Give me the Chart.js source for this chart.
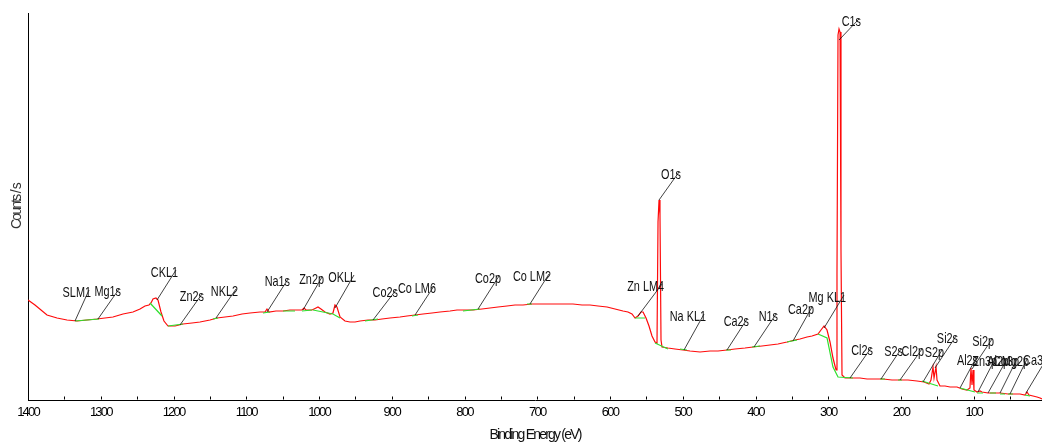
<!DOCTYPE html>
<html>
<head>
<meta charset="utf-8">
<title>XPS survey spectrum</title>
<script src="https://cdn.jsdelivr.net/npm/chart.js@4.4.0/dist/chart.umd.min.js"></script>
<style>
  html, body { margin: 0; padding: 0; background: #ffffff; }
  #wrap { width: 1042px; height: 444px; position: relative; }
</style>
</head>
<body>
<div id="wrap"><canvas id="survey"></canvas></div>
<script>
// Survey scan: binding energy (eV) and intensity (counts / s)
const energy = [1400, 1390.4, 1373.9, 1360.1, 1346.4, 1332.6, 1318.9, 1305.2, 1294.2, 1283.2,
  1269.4, 1255.7, 1246.0, 1239.2, 1233.7, 1230.9, 1228.2, 1224.1, 1221.3, 1217.2,
  1213.1, 1207.6, 1197.9, 1186.9, 1174.6, 1163.6, 1149.8, 1140.2, 1129.2, 1118.2,
  1105.8, 1094.8, 1081.1, 1074.2, 1071.5, 1068.7, 1059.1, 1049.5, 1039.9, 1030.2,
  1023.4, 1020.6, 1017.9, 1009.6, 1004.1, 1001.4, 997.3, 991.8, 984.9, 980.8,
  978.0, 975.3, 971.1, 964.3, 957.4, 950.5, 943.6, 932.6, 923.0, 913.4,
  902.4, 888.7, 879.0, 868.0, 857.0, 844.7, 833.7, 819.9, 810.3, 799.3,
  788.3, 776.0, 765.0, 754.0, 741.6, 730.6, 719.6, 707.2, 696.2, 682.5,
  672.9, 661.9, 650.9, 638.5, 627.5, 616.5, 604.1, 593.1, 582.1, 575.3,
  569.8, 565.6, 561.5, 557.4, 554.6, 550.5, 546.4, 542.3, 538.1, 535.4,
  534.0, 532.6, 531.3, 529.9, 528.5, 520.3, 510.7, 499.7, 490.0, 476.3,
  462.5, 451.5, 439.2, 428.2, 414.4, 403.4, 391.1, 380.1, 369.1, 356.7,
  345.7, 338.8, 329.2, 322.3, 314.1, 310.0, 305.8, 301.7, 297.6, 293.5,
  290.7, 289.3, 288.0, 286.6, 285.2, 283.8, 282.5, 281.1, 277.0, 266.0,
  256.4, 246.7, 235.7, 224.7, 212.4, 201.4, 190.4, 178.0, 168.4, 161.5,
  158.8, 156.0, 154.6, 151.9, 150.5, 146.4, 139.5, 132.6, 123.0, 116.2,
  109.3, 105.2, 103.8, 102.4, 101.0, 99.7, 95.5, 91.4, 88.7, 80.4,
  70.8, 63.9, 52.9, 43.3, 36.4, 29.6, 26.8, 24.1, 18.6, 13.1,
  8.9, 6.2];

const counts = [30000, 28500, 25500, 24600, 24000, 23700, 24000, 24300, 24600, 24900,
  25800, 26400, 27300, 28200, 28500, 29100, 30300, 30600, 30000, 26400,
  23700, 22200, 22200, 22800, 23100, 23400, 24000, 24600, 24900, 25200,
  25800, 26100, 26400, 26400, 27300, 26400, 26700, 26700, 27000, 27000,
  27000, 27600, 27000, 27000, 27600, 27900, 27300, 26400, 25800, 26100,
  28500, 27900, 24900, 23700, 23400, 23400, 23700, 24000, 24000, 24300,
  24600, 24900, 25200, 25500, 25800, 26100, 26400, 26700, 27000, 27000,
  27000, 27300, 27600, 27900, 28200, 28500, 28500, 28800, 28800, 28800,
  28800, 28800, 28800, 28500, 28500, 28200, 27900, 27300, 26700, 26400,
  25800, 24600, 25200, 26400, 26400, 24600, 22200, 19200, 17400, 17100,
  53400, 60000, 55500, 18000, 15900, 15600, 15300, 15000, 14700, 14400,
  14700, 14700, 15000, 15300, 15600, 15900, 16200, 16500, 16800, 17400,
  18000, 18300, 18900, 19200, 19800, 21000, 22200, 21000, 17400, 12600,
  10200, 9000, 37500, 109500, 111300, 110400, 45000, 7500, 6600, 6600,
  6600, 6300, 6300, 6300, 6000, 6000, 6000, 5700, 5400, 4800,
  6000, 9900, 6600, 9900, 6000, 4200, 4200, 3900, 3900, 3300,
  3000, 3600, 9600, 4500, 9000, 3000, 2400, 2700, 2400, 2100,
  2100, 2100, 1800, 1800, 1800, 1500, 2400, 1500, 1200, 900,
  600, 300];

// Linear backgrounds under the fitted regions: [energy, counts] end points
const bgSegments = [
  [[1335.4, 23700], [1302.4, 24300]],
  [[1232.3, 29100], [1215.8, 25200]],
  [[1207.6, 22200], [1186.9, 22800]],
  [[1145.7, 24300], [1138.8, 24600]],
  [[1077.0, 26100], [1067.4, 26400]],
  [[1049.5, 26700], [1033.0, 26700]],
  [[1023.4, 26700], [1009.6, 27000]],
  [[1008.2, 27000], [980.8, 25800], [971.1, 24600]],
  [[936.8, 23700], [918.9, 24300]],
  [[872.2, 25200], [863.9, 25500]],
  [[802.1, 26700], [778.7, 27300]],
  [[714.1, 28800], [707.2, 28800]],
  [[565.6, 24600], [551.9, 24600]],
  [[538.1, 17100], [520.3, 15300]],
  [[503.8, 15300], [494.2, 15000]],
  [[440.6, 15000], [433.7, 15000]],
  [[404.8, 15900], [393.8, 16200]],
  [[356.7, 17400], [343.0, 18000]],
  [[314.1, 19800], [301.7, 18600], [293.5, 9900], [286.6, 6900], [266.0, 6600]],
  [[228.9, 6300], [222.0, 6300]],
  [[204.1, 6000], [198.6, 6000]],
  [[171.1, 5700], [149.1, 4200]],
  [[118.9, 3600], [98.3, 2400]],
  [[95.5, 2100], [87.3, 2100]],
  [[77.7, 2100], [69.4, 2100]],
  [[63.9, 1800], [57.0, 1800]],
  [[52.9, 1800], [46.1, 1800]],
  [[29.6, 1500], [22.7, 1200]]
];

// Peak identifications: leader starts on the trace, label sits at (labelE, labelCounts)
const peakNames = ['SLM1', 'Mg1s', 'CKL1', 'Zn2s', 'NKL2', 'Na1s', 'Zn2p', 'OKLL',
  'Co2s', 'Co LM6', 'Co2p', 'Co LM2', 'Zn LM4', 'O1s', 'Na KL1', 'Ca2s', 'N1s', 'Ca2p',
  'Mg KL1', 'C1s', 'Cl2s', 'S2s', 'Cl2p', 'S2p', 'Si2s', 'Si2p', 'Al2s', 'Zn3p',
  'Al2p', 'Co3p', 'Mg2p', 'Ca3p'];
const peakE = [1335.4, 1303.8, 1222.7, 1191.1, 1141.6, 1071.5, 1022.0, 978.0,
  925.8, 868.0, 781.4, 710.0, 561.5, 532.6, 498.3, 439.2, 402.1, 348.5,
  305.8, 285.2, 270.1, 227.5, 201.4, 169.8, 153.3, 102.4, 118.9, 94.2,
  80.4, 63.9, 50.2, 28.2];
const peakCounts = [23700, 24300, 30000, 22500, 24600, 26400, 27000, 27600,
  24000, 25500, 27300, 28800, 25200, 60000, 15000, 15000, 15900, 17700,
  21600, 108000, 6600, 6300, 6000, 5400, 9600, 9300, 3600, 2400,
  2100, 2100, 1800, 2100];
const labelE = [1314.8, 1273.5, 1195.2, 1159.5, 1112.7, 1041.2, 994.5, 950.5,
  892.8, 840.6, 751.2, 682.5, 527.1, 503.8, 469.4, 410.3, 370.4, 321.0,
  277.0, 256.4, 239.9, 198.6, 169.8, 142.3, 123.0, 73.5, 95.5, 69.4,
  52.9, 39.2, 25.4, -2.1];
const labelCounts = [32100, 32400, 38100, 30900, 32400, 35400, 36000, 36600,
  32100, 33300, 36300, 36900, 33900, 67500, 24900, 23400, 24900, 27000,
  30600, 113400, 14700, 14400, 14400, 14100, 18300, 17400, 11700, 11400,
  11400, 11400, 11400, 11700];

// Axis ticks
const tickLabels = [1400, 1300, 1200, 1100, 1000, 900, 800, 700, 600, 500, 400, 300, 200, 100];
const minorTicks = [1350, 1250, 1150, 1050, 950, 850, 750, 650, 550, 450, 350, 250, 150, 50];

const spectrum = energy.map((e, i) => ({ x: e, y: counts[i] }));
const background = [];
bgSegments.forEach(seg => {
  seg.forEach(p => background.push({ x: p[0], y: p[1] }));
  background.push({ x: seg[seg.length - 1][0], y: null });
});

const plainFont = '"Liberation Sans", Arial, sans-serif';

// tight letter spacing for the axis texts
const tightText = {
  id: 'tightText',
  beforeDraw(chart) { chart.ctx.letterSpacing = '-1.8px'; },
  afterDraw(chart) { chart.ctx.letterSpacing = '0px'; }
};

const annotate = {
  id: 'annotate',
  afterDatasetsDraw(chart) {
    const { ctx, scales: { x, y } } = chart;
    ctx.save();
    ctx.letterSpacing = '0px';
    // inward tick marks on the energy axis
    ctx.strokeStyle = '#000';
    ctx.lineWidth = 1;
    const yb = Math.round(y.getPixelForValue(0)) - 0.5;
    tickLabels.concat(minorTicks).forEach(v => {
      const px = Math.round(x.getPixelForValue(v)) + 0.5;
      ctx.beginPath();
      ctx.moveTo(px, yb);
      ctx.lineTo(px, yb - 3);
      ctx.stroke();
    });
    // peak leaders and names
    ctx.lineWidth = 0.8;
    ctx.strokeStyle = '#111';
    ctx.fillStyle = '#111';
    ctx.font = '14.5px ' + plainFont;
    ctx.textAlign = 'right';
    ctx.textBaseline = 'middle';
    peakNames.forEach((name, i) => {
      const x0 = x.getPixelForValue(peakE[i]);
      const y0 = y.getPixelForValue(peakCounts[i]);
      const x1 = x.getPixelForValue(labelE[i]);
      const y1 = y.getPixelForValue(labelCounts[i]);
      ctx.beginPath();
      ctx.moveTo(x0, y0);
      ctx.lineTo(x1 - 1, y1 - 3);
      ctx.stroke();
      ctx.save();
      ctx.translate(x1 + 1, y1);
      ctx.scale(0.75, 1);
      ctx.fillText(name, 0, 0);
      ctx.restore();
    });
    ctx.restore();
  }
};

new Chart(document.getElementById('survey'), {
  type: 'scatter',
  data: {
    datasets: [
      {
        label: 'Background',
        data: background,
        showLine: true,
        spanGaps: false,
        borderColor: '#2ee02e',
        borderWidth: 1.2,
        pointRadius: 0,
        order: 0
      },
      {
        label: 'Survey',
        data: spectrum,
        showLine: true,
        borderColor: '#ff0a0a',
        borderWidth: 1.2,
        pointRadius: 0,
        order: 1
      }
    ]
  },
  options: {
    responsive: true,
    maintainAspectRatio: false,
    animation: false,
    events: [],
    layout: { padding: { top: 13, right: 0, left: 0, bottom: 0 } },
    plugins: { legend: { display: false }, tooltip: { enabled: false } },
    scales: {
      x: {
        type: 'linear',
        reverse: true,
        min: 6.2,
        max: 1400,
        afterBuildTicks: s => { s.ticks = tickLabels.map(v => ({ value: v })); },
        afterFit: s => { s.height = 44; },
        grid: { display: false, drawTicks: false },
        border: { display: true, color: '#000', width: 1 },
        ticks: {
          autoSkip: false,
          maxRotation: 0,
          padding: 5,
          color: '#000',
          font: { family: plainFont, size: 13 },
          callback: v => String(v)
        },
        title: {
          display: true,
          text: 'Binding Energy (eV)',
          color: '#111',
          font: { family: plainFont, size: 14 },
          padding: { top: 0, bottom: 0 }
        }
      },
      y: {
        type: 'linear',
        min: 0,
        max: 116100,
        afterFit: s => { s.width = 28; },
        grid: { display: false, drawTicks: false },
        border: { display: true, color: '#000', width: 1 },
        ticks: { display: false },
        title: {
          display: true,
          text: 'Counts / s',
          color: '#333',
          font: { family: plainFont, size: 14 },
          padding: { top: 9, bottom: 0 }
        }
      }
    }
  },
  plugins: [tightText, annotate]
});
</script>
</body>
</html>
